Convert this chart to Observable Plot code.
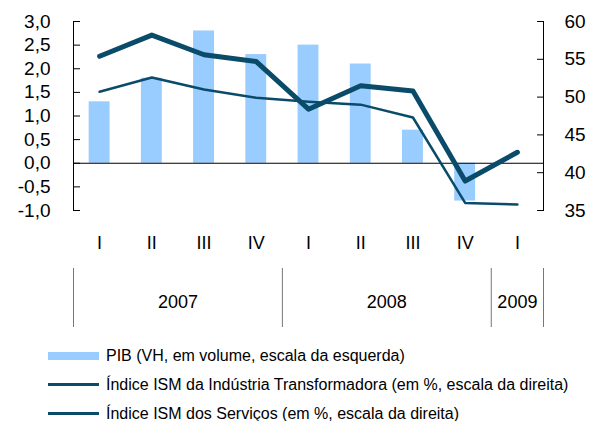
<!DOCTYPE html>
<html><head><meta charset="utf-8">
<script src="https://cdn.jsdelivr.net/npm/d3@7"></script>
<script src="https://cdn.jsdelivr.net/npm/@observablehq/plot@0.6"></script>
<style>
html,body{margin:0;padding:0;background:#fff;overflow:hidden;width:590px;height:421px;}
#chart svg{display:block}
.legend{font-family:"Liberation Sans",Arial,sans-serif;font-size:16px;color:#000;padding-top:14px;}
.row{display:flex;align-items:center;height:29px;padding-left:48px;white-space:nowrap}
.sw{width:51px;margin-right:7px;flex:none}
</style></head><body><div id="chart"></div>
<script>
// ---- data ----
const quarters = ["I","II","III","IV","I","II","III","IV","I"];
const years = ["2007","2008","2009"];
const yearFirst = [0, 4, 8];   // first quarter index of each year
const yearLast = [3, 7, 8];    // last quarter index of each year
const pib = [1.3, 1.8, 2.8, 2.3, 2.5, 2.1, 0.7, -0.8, null];
const ismManuf = [50.7, 52.6, 51.0, 49.9, 49.4, 49.0, 47.3, 36.0, 35.8];
const ismServ = [55.4, 58.2, 55.6, 54.7, 48.4, 51.5, 50.8, 38.9, 42.7];
const leftTicks = [-1, -0.5, 0, 0.5, 1, 1.5, 2, 2.5, 3];
const rightTicks = [35, 40, 45, 50, 55, 60];
const legendLabels = [
  "PIB (VH, em volume, escala da esquerda)",
  "Índice ISM da Indústria Transformadora (em %, escala da direita)",
  "Índice ISM dos Serviços (em %, escala da direita)"
];

// ---- scales helpers ----
const leftDomain = [leftTicks[0], leftTicks[leftTicks.length - 1]];
const rightDomain = [rightTicks[0], rightTicks[rightTicks.length - 1]];
const R = v => leftDomain[0] + (v - rightDomain[0]) * (leftDomain[1] - leftDomain[0]) / (rightDomain[1] - rightDomain[0]);
const Rinv = y => rightDomain[0] + (y - leftDomain[0]) * (rightDomain[1] - rightDomain[0]) / (leftDomain[1] - leftDomain[0]);
const fmt = v => v.toFixed(1).replace(".", ",");
const xDomain = [-0.5, quarters.length - 0.5];

const rows = quarters.map((q, i) => ({i, q, pib: pib[i], man: ismManuf[i], serv: ismServ[i]}));
const FONT = '"Liberation Sans", Arial, sans-serif';
const LINE = "#0a4b69";

const main = Plot.plot({
  width: 590, height: 268,
  marginTop: 21, marginBottom: 58, marginLeft: 73, marginRight: 47,
  style: {fontFamily: FONT, background: "white", color: "#000", overflow: "visible"},
  x: {domain: xDomain, axis: null},
  y: {domain: leftDomain, axis: null},
  marks: [
    Plot.rectY(rows.filter(d => d.pib != null), {x1: d => d.i - 0.2, x2: d => d.i + 0.2, y1: 0, y2: "pib", fill: "#99ccff"}),
    Plot.ruleY([0], {stroke: "#000", strokeWidth: 1}),
    Plot.line(rows, {x: "i", y: d => R(d.man), stroke: LINE, strokeWidth: 2.5, strokeLinejoin: "round"}),
    Plot.line(rows, {x: "i", y: d => R(d.serv), stroke: LINE, strokeWidth: 5, strokeLinecap: "round", strokeLinejoin: "round"}),
    Plot.ruleX(xDomain, {stroke: "#000", strokeWidth: 1}),
    Plot.axisY(leftTicks, {anchor: "left", label: null, tickSize: -7, tickPadding: 30, tickFormat: fmt, fontSize: 19}),
    Plot.axisY(rightTicks.map(R), {anchor: "right", label: null, tickSize: -7, tickPadding: 28, tickFormat: y => String(Math.round(Rinv(y))), fontSize: 19}),
    Plot.axisX(d3.range(quarters.length), {anchor: "bottom", label: null, tickSize: 0, tickPadding: 26, tickFormat: i => quarters[i], fontSize: 18})
  ]
});

const seps = [...new Set(yearFirst.map(i => i - 0.5).concat(yearLast.map(i => i + 0.5)))].map(x => ({x}));
const yearRows = years.map((y, k) => ({year: y, x: (yearFirst[k] + yearLast[k]) / 2}));

const yearsPlot = Plot.plot({
  width: 590, height: 59,
  marginTop: 0, marginBottom: 0, marginLeft: 73, marginRight: 47,
  style: {fontFamily: FONT, background: "white", color: "#000", overflow: "visible"},
  x: {domain: xDomain, axis: null},
  marks: [
    Plot.ruleX(seps, {x: "x", stroke: "#777", strokeWidth: 1}),
    Plot.text(yearRows, {x: "x", text: "year", frameAnchor: "middle", fontSize: 18, dy: 4, fill: "#000"})
  ]
});

const chart = document.getElementById("chart");
chart.appendChild(main);
chart.appendChild(yearsPlot);

const legend = document.createElement("div");
legend.className = "legend";
legendLabels.forEach((label, k) => {
  const row = document.createElement("div");
  row.className = "row";
  const sw = document.createElement("span");
  sw.className = "sw";
  if (k === 0) { sw.style.height = "8px"; sw.style.background = "#99ccff"; }
  else { sw.style.height = "3px"; sw.style.background = LINE; }
  const t = document.createElement("span");
  t.textContent = label;
  row.appendChild(sw); row.appendChild(t);
  legend.appendChild(row);
});
chart.appendChild(legend);
</script>
</body></html>
